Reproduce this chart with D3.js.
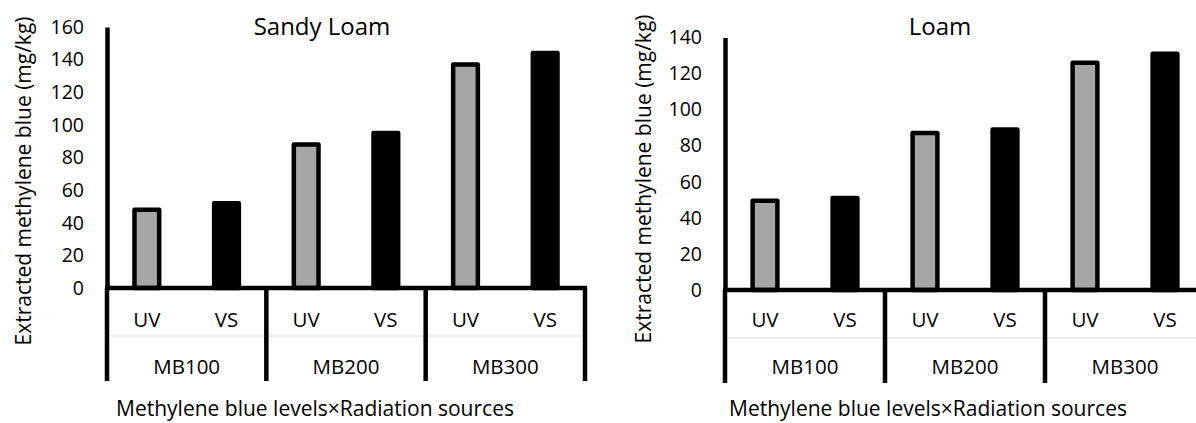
<!DOCTYPE html>
<html>
<head>
<meta charset="utf-8">
<script src="https://cdn.jsdelivr.net/npm/d3@7"></script>
<style>
  html, body { margin: 0; padding: 0; background: #fff; }
  svg { display: block; font-family: "Open Sans", sans-serif; }
</style>
</head>
<body>
<svg id="chart" width="1196" height="423"></svg>
<script>
// Methylene blue levels and radiation sources
const levels = ["MB100", "MB200", "MB300"];
const sources = ["UV", "VS"];

// Extracted methylene blue (mg/kg), ordered level by level: UV, VS
const sandyLoamValues = [48, 52, 88, 95, 137, 144];
const loamValues = [49.5, 51, 87, 89, 126, 131];

// Value axis ticks
const sandyLoamTicks = [0, 20, 40, 60, 80, 100, 120, 140, 160];
const loamTicks = [0, 20, 40, 60, 80, 100, 120, 140];

const panelTitles = ["Sandy Loam", "Loam"];
const yAxisTitle = "Extracted methylene blue (mg/kg)";
const xAxisTitle = "Methylene blue levels×Radiation sources";

const sourceFill = { UV: "#a6a6a6", VS: "#000000" };

const svg = d3.select("#chart");

function drawPanel(cfg) {
  const g = svg.append("g");

  const rows = [];
  levels.forEach((lv, i) => {
    sources.forEach((src, j) => {
      rows.push({ level: lv, source: src, value: cfg.values[i * sources.length + j] });
    });
  });

  const x0 = d3.scaleBand().domain(levels).range([cfg.left, cfg.right]).padding(0);
  const x1 = d3.scaleBand().domain(sources).range([0, x0.bandwidth()])
    .paddingInner(0.69).paddingOuter(0.345);
  const y = d3.scaleLinear().domain([0, d3.max(cfg.ticks)]).range([cfg.base, cfg.top]);

  // bars
  g.selectAll("rect.bar").data(rows).join("rect")
    .attr("class", "bar")
    .attr("x", d => x0(d.level) + x1(d.source))
    .attr("y", d => y(d.value))
    .attr("width", x1.bandwidth())
    .attr("height", d => y(0) - y(d.value))
    .attr("fill", d => sourceFill[d.source])
    .attr("stroke", "#000")
    .attr("stroke-width", 4.5)
    .attr("stroke-linejoin", "round");

  // value axis
  const yAxis = d3.axisLeft(y).tickValues(cfg.ticks).tickSize(0).tickSizeOuter(0).tickPadding(23);
  const ya = g.append("g").attr("transform", `translate(${cfg.left},0)`).call(yAxis);
  ya.select(".domain").attr("stroke", "#000").attr("stroke-width", 4.5);
  ya.selectAll("text").attr("font-size", 19.5).attr("fill", "#000")
    .attr("font-family", "Open Sans, sans-serif");

  // faint divider between label rows
  g.append("line")
    .attr("x1", cfg.left).attr("x2", cfg.right)
    .attr("y1", cfg.base + 48).attr("y2", cfg.base + 48)
    .attr("stroke", "#dcdcdc").attr("stroke-width", 1);

  // category baseline
  g.append("line")
    .attr("x1", cfg.left - 2).attr("x2", cfg.right + 2)
    .attr("y1", y(0)).attr("y2", y(0))
    .attr("stroke", "#000").attr("stroke-width", 4.5);

  // group separators
  const edges = levels.map(lv => x0(lv)).concat([x0(levels[levels.length - 1]) + x0.bandwidth()]);
  g.selectAll("line.sep").data(edges).join("line")
    .attr("class", "sep")
    .attr("x1", d => d).attr("x2", d => d)
    .attr("y1", y(0)).attr("y2", cfg.base + 93)
    .attr("stroke", "#000").attr("stroke-width", 4.5);

  // source labels
  g.selectAll("text.src").data(rows).join("text")
    .attr("class", "src")
    .attr("x", d => x0(d.level) + x1(d.source) + x1.bandwidth() / 2)
    .attr("y", 320)
    .attr("dy", "0.35em")
    .attr("text-anchor", "middle")
    .attr("font-size", 20.5)
    .text(d => d.source);

  // level labels
  g.selectAll("text.lvl").data(levels).join("text")
    .attr("class", "lvl")
    .attr("x", d => x0(d) + x0.bandwidth() / 2)
    .attr("y", 367)
    .attr("dy", "0.35em")
    .attr("text-anchor", "middle")
    .attr("font-size", 20.5)
    .text(d => d);

  // titles
  g.append("text")
    .attr("x", cfg.titleX).attr("y", 35)
    .attr("text-anchor", "middle")
    .attr("font-size", 24)
    .text(cfg.title);

  g.append("text")
    .attr("transform", `translate(${cfg.yTitleX},${cfg.yTitleY}) rotate(-90)`)
    .attr("dy", "0.35em")
    .attr("text-anchor", "middle")
    .attr("font-size", 21)
    .text(yAxisTitle);

  g.append("text")
    .attr("x", cfg.xTitleX).attr("y", 416)
    .attr("text-anchor", "middle")
    .attr("font-size", 21)
    .text(xAxisTitle);
}

drawPanel({
  values: sandyLoamValues, ticks: sandyLoamTicks, title: panelTitles[0],
  left: 107, right: 585, top: 27, base: 288,
  titleX: 322, yTitleX: 24, yTitleY: 181, xTitleX: 315
});

drawPanel({
  values: loamValues, ticks: loamTicks, title: panelTitles[1],
  left: 725, right: 1205, top: 37.5, base: 290,
  titleX: 940, yTitleX: 644, yTitleY: 179, xTitleX: 928
});
</script>
</body>
</html>
